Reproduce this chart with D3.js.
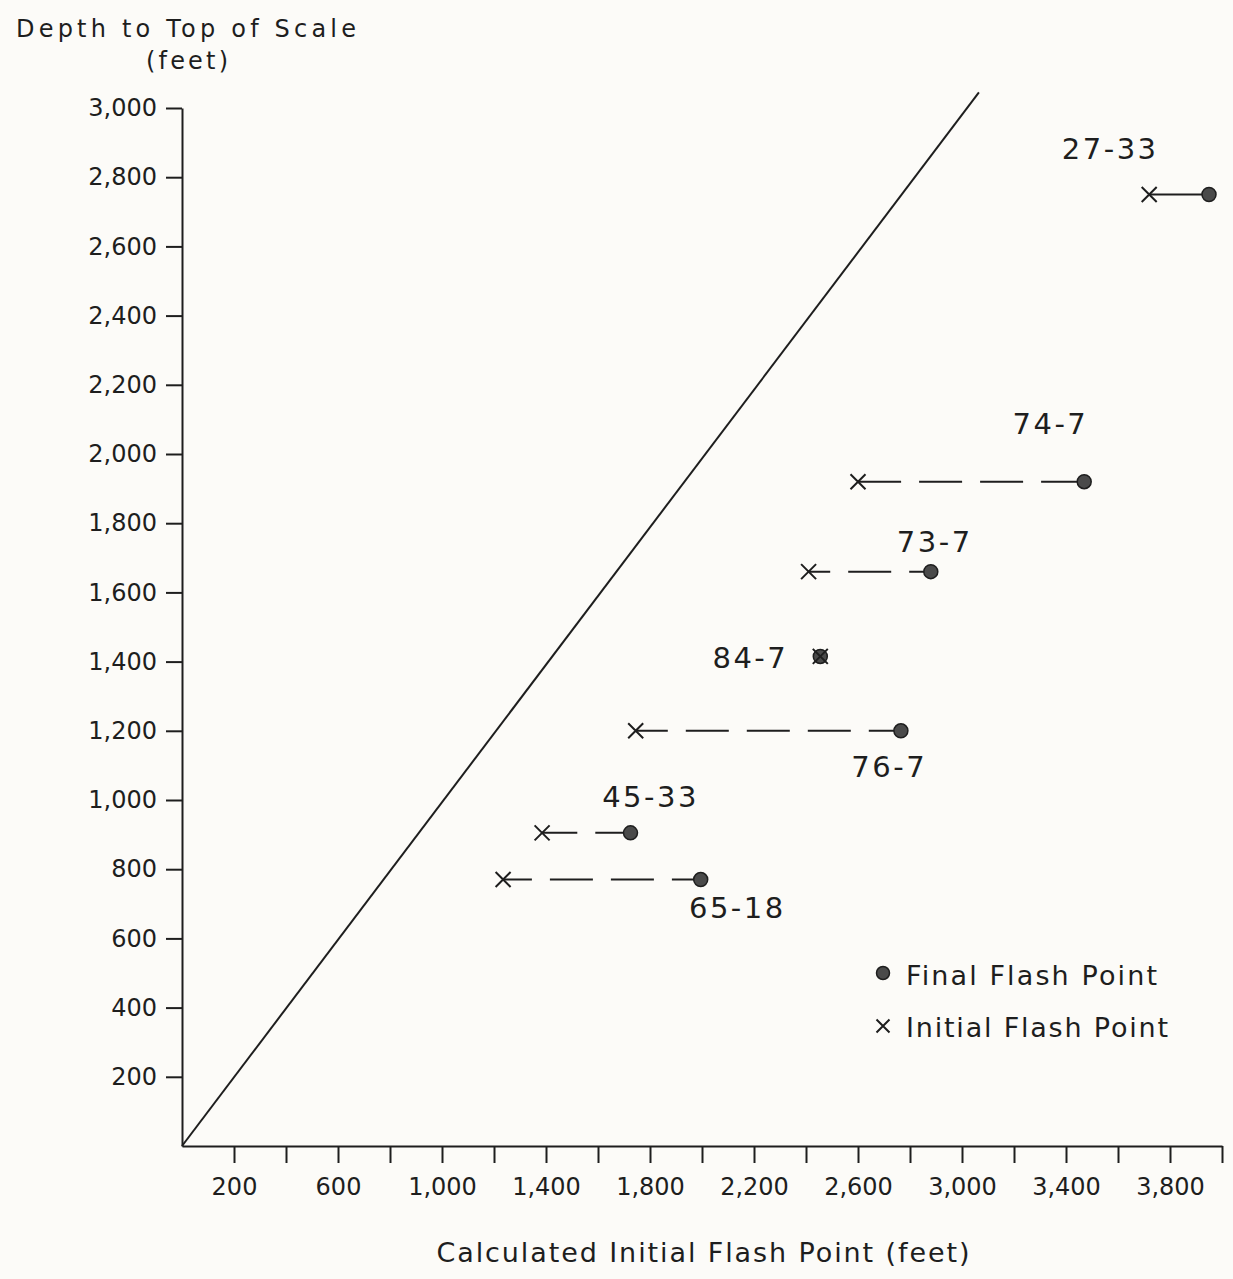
<!DOCTYPE html>
<html>
<head>
<meta charset="utf-8">
<script src="https://cdn.jsdelivr.net/npm/d3@7"></script>
<style>
  html, body { margin: 0; padding: 0; background: #fcfbf8; }
  svg { display: block; }
  text { font-family: "DejaVu Sans", sans-serif; fill: #1e1e1e; }
</style>
</head>
<body>
<svg id="chart" width="1233" height="1279"></svg>
<script>
// ---- Data (feet) ----
const wells        = ["27-33", "74-7", "73-7", "84-7", "76-7", "45-33", "65-18"];
const initialFlash = [3720, 2600, 2410, 2455, 1745, 1385, 1235];
const finalFlash   = [3950, 3470, 2880, 2455, 2765, 1725, 1995];
const depthTop     = [2750, 1920, 1660, 1415, 1200, 905, 770];
// annotation anchors in data units (feet)
const labelX       = [3570, 3340, 2895, 2186, 2720, 1802, 2136];
const labelY       = [2853, 2058, 1717, 1382, 1066, 980, 659];
// 1:1 reference line
const refLineX     = [0, 3065];
const refLineY     = [0, 3045];
// axis ticks
const xTicks       = [200, 400, 600, 800, 1000, 1200, 1400, 1600, 1800, 2000, 2200, 2400, 2600, 2800, 3000, 3200, 3400, 3600, 3800, 4000];
const xTickLabels  = [200, 600, 1000, 1400, 1800, 2200, 2600, 3000, 3400, 3800];
const yTicks       = [200, 400, 600, 800, 1000, 1200, 1400, 1600, 1800, 2000, 2200, 2400, 2600, 2800, 3000];
const legendLabels = ["Final Flash Point", "Initial Flash Point"];
const solidWells   = ["27-33"];

// ---- Drawing ----
const svg = d3.select("#chart");
const ink = "#1e1e1e";
const x = d3.scaleLinear().domain([0, 4000]).range([182, 1222]);
const y = d3.scaleLinear().domain([0, 3000]).range([1146, 108]);
const fmt = d3.format(",");

// X axis
const xAxis = d3.axisBottom(x)
  .tickValues(xTicks)
  .tickSize(17)
  .tickSizeOuter(0)
  .tickPadding(15)
  .tickFormat(d => xTickLabels.includes(d) ? fmt(d) : "");
const gx = svg.append("g").attr("transform", `translate(0,${y(0)})`).call(xAxis);
gx.select(".domain").attr("stroke", ink).attr("stroke-width", 2);
gx.selectAll(".tick line").attr("stroke", ink).attr("stroke-width", 2);
gx.selectAll(".tick text").attr("font-size", 24).attr("font-family", "DejaVu Sans").attr("fill", ink);

// Y axis
const yAxis = d3.axisLeft(y)
  .tickValues(yTicks)
  .tickSize(16)
  .tickSizeOuter(0)
  .tickPadding(9)
  .tickFormat(fmt);
const gy = svg.append("g").attr("transform", `translate(${x(0)},0)`).call(yAxis);
gy.select(".domain").attr("stroke", ink).attr("stroke-width", 2);
gy.selectAll(".tick line").attr("stroke", ink).attr("stroke-width", 2);
gy.selectAll(".tick text").attr("font-size", 24).attr("font-family", "DejaVu Sans").attr("fill", ink);

// Axis titles
svg.append("text").attr("x", 186).attr("y", 37).attr("text-anchor", "middle")
  .attr("font-size", 24).attr("textLength", 340).attr("lengthAdjust", "spacing")
  .text("Depth to Top of Scale");
svg.append("text").attr("x", 187).attr("y", 69).attr("text-anchor", "middle")
  .attr("font-size", 24).attr("textLength", 82).attr("lengthAdjust", "spacing")
  .text("(feet)");
svg.append("text").attr("x", 703).attr("y", 1262).attr("text-anchor", "middle")
  .attr("font-size", 27).attr("textLength", 533).attr("lengthAdjust", "spacing")
  .text("Calculated Initial Flash Point (feet)");

// 1:1 line
svg.append("path")
  .datum(refLineX.map((v, i) => [v, refLineY[i]]))
  .attr("d", d3.line().x(d => x(d[0])).y(d => y(d[1])))
  .attr("fill", "none").attr("stroke", ink).attr("stroke-width", 2);

// symmetric plotter-style dash pattern
function dashFor(L) {
  const d = 43, g = 18;
  const n = Math.max(1, Math.floor((L - d - g) / (d + g)) + 1);
  const e = (L - n * g - (n - 1) * d) / 2;
  const arr = [e];
  for (let i = 0; i < n - 1; i++) arr.push(g, d);
  arr.push(g, e);
  return arr.join(",");
}

const rows = wells.map((w, i) => ({
  well: w, xi: initialFlash[i], xf: finalFlash[i], d: depthTop[i], lx: labelX[i], ly: labelY[i]
}));

// connecting lines
svg.append("g").selectAll("line").data(rows.filter(r => r.xf !== r.xi)).join("line")
  .attr("x1", r => x(r.xi)).attr("x2", r => x(r.xf))
  .attr("y1", r => y(r.d)).attr("y2", r => y(r.d))
  .attr("stroke", ink).attr("stroke-width", 2)
  .attr("stroke-dasharray", r => solidWells.includes(r.well) ? null : dashFor(x(r.xf) - x(r.xi)));

// final flash point dots
svg.append("g").selectAll("circle").data(rows).join("circle")
  .attr("cx", r => x(r.xf)).attr("cy", r => y(r.d)).attr("r", 7)
  .attr("fill", "#4a4a4a").attr("stroke", ink).attr("stroke-width", 1.5);

// initial flash point crosses
const cross = (cx, cy, s) => `M${cx - s},${cy - s}L${cx + s},${cy + s}M${cx - s},${cy + s}L${cx + s},${cy - s}`;
svg.append("g").selectAll("path").data(rows).join("path")
  .attr("d", r => cross(x(r.xi), y(r.d), 7.5))
  .attr("stroke", ink).attr("stroke-width", 2).attr("fill", "none");

// well labels
svg.append("g").selectAll("text").data(rows).join("text")
  .attr("x", r => x(r.lx)).attr("y", r => y(r.ly))
  .attr("text-anchor", "middle").attr("font-size", 29).attr("letter-spacing", 2.5)
  .text(r => r.well);

// legend
const lg = svg.append("g");
lg.append("circle").attr("cx", 883).attr("cy", 973).attr("r", 6.5)
  .attr("fill", "#4a4a4a").attr("stroke", ink).attr("stroke-width", 1.5);
lg.append("text").attr("x", 906).attr("y", 985).attr("font-size", 27)
  .attr("textLength", 251).attr("lengthAdjust", "spacing").text(legendLabels[0]);
lg.append("path").attr("d", cross(883, 1026, 6.5)).attr("stroke", ink).attr("stroke-width", 2).attr("fill", "none");
lg.append("text").attr("x", 906).attr("y", 1037).attr("font-size", 27)
  .attr("textLength", 262).attr("lengthAdjust", "spacing").text(legendLabels[1]);
</script>
</body>
</html>
